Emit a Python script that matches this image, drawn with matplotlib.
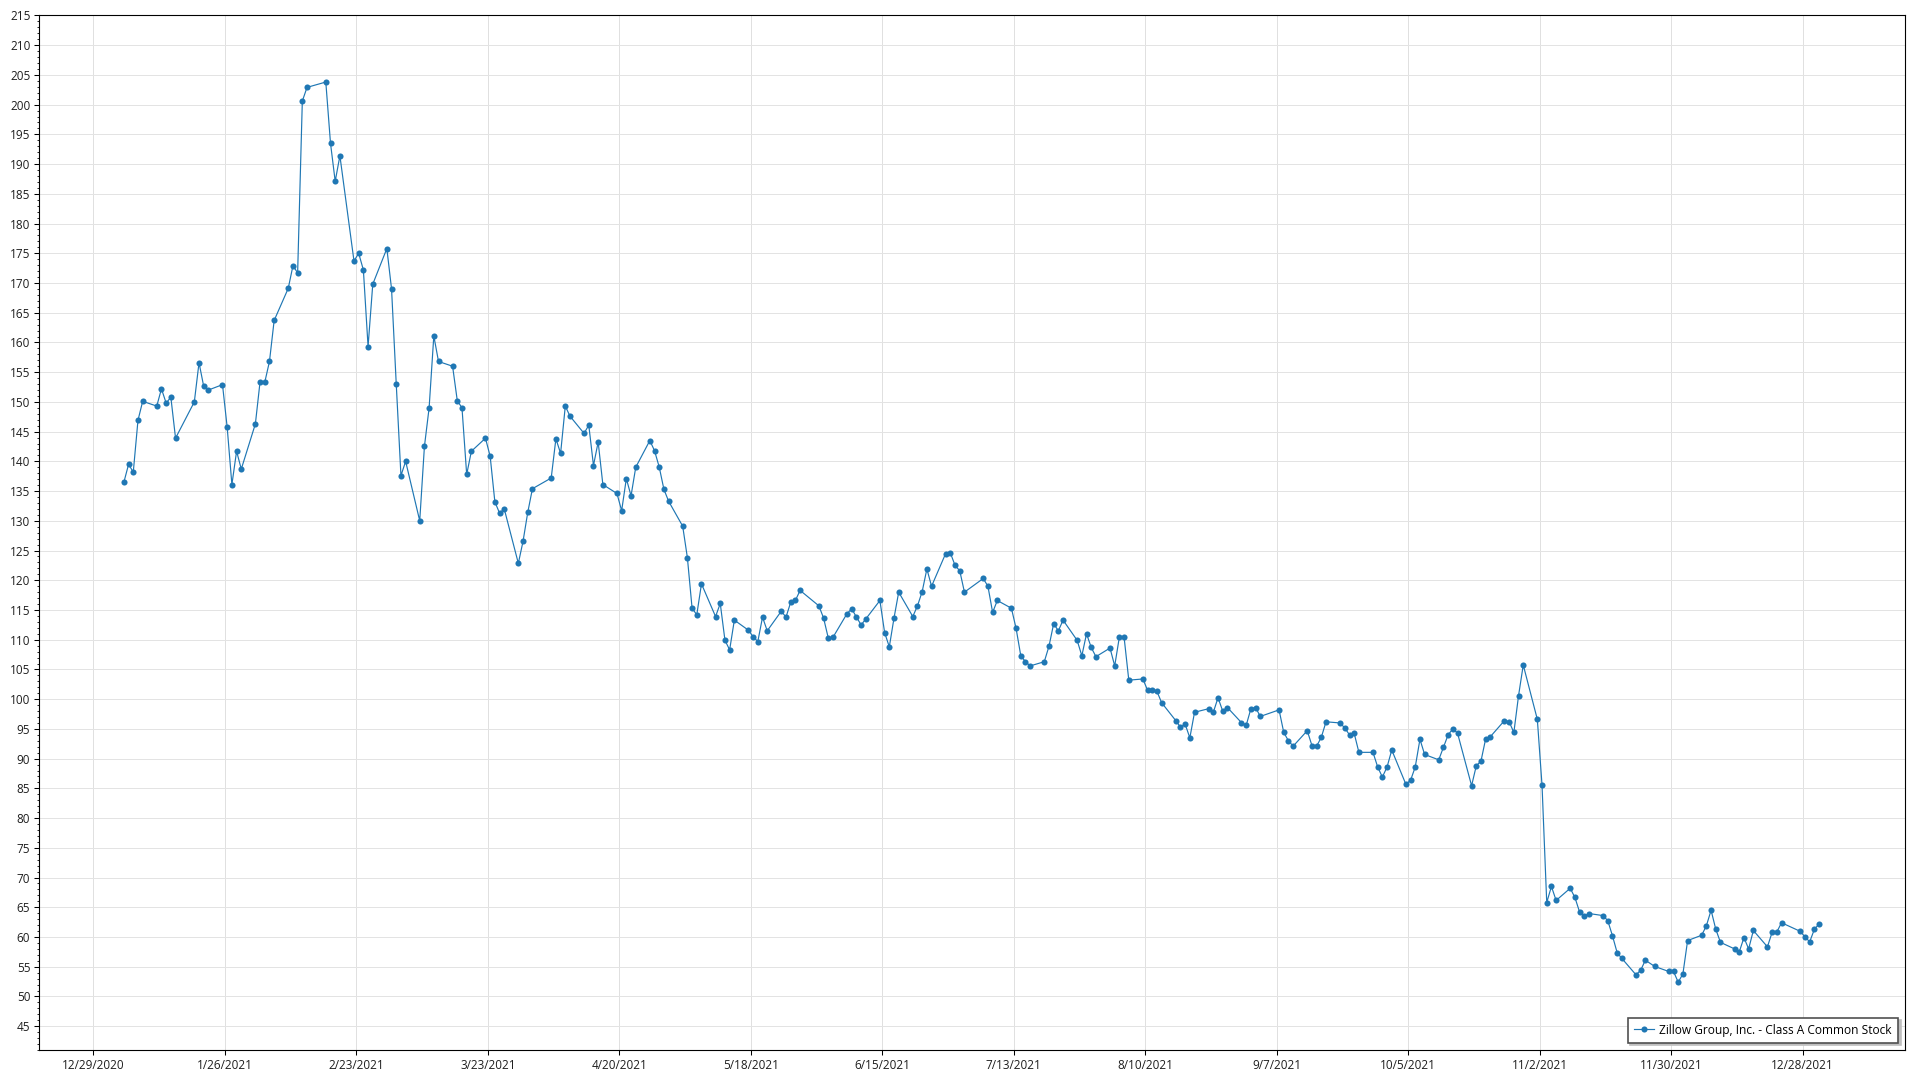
# plot.py - Zillow Group (ZG) daily close, 2021

import numpy as np
import pandas as pd
import matplotlib
matplotlib.use("Agg")
import matplotlib.pyplot as plt
from matplotlib.ticker import MultipleLocator

# =============================
# 1. Data (daily closes)
# =============================

series_name = "Zillow Group, Inc. - Class A Common Stock"

market_holidays = ["2021-01-18", "2021-02-15", "2021-04-02", "2021-05-31",
                   "2021-07-05", "2021-09-06", "2021-11-25", "2021-12-24"]

jan = [136.5, 139.5, 138.2, 146.9, 150.1,
       149.3, 152.2, 149.8, 150.8, 143.9,
       150.0, 156.6, 152.6, 152.0,
       152.9, 145.7, 136.1, 141.7, 138.7]
feb = [146.3, 153.4, 153.3, 156.8, 163.7,
       169.1, 172.9, 171.7, 200.6, 202.9,
       203.8, 193.5, 187.1, 191.4,
       173.7, 175.0, 172.2, 159.3, 169.8]
mar = [175.8, 169.0, 153.0, 137.6, 140.0,
       130.0, 142.5, 149.0, 161.1, 156.8,
       156.0, 150.2, 149.0, 137.8, 141.7,
       143.9, 140.85, 133.2, 131.3, 132.0,
       122.85, 126.55, 131.4]
apr = [135.4,
       137.2, 143.8, 141.35, 149.3, 147.6,
       144.7, 146.1, 139.3, 143.25, 136.1,
       134.6, 131.7, 137.1, 134.2, 139.0,
       143.5, 141.8, 139.05, 135.3, 133.3]
may = [129.1, 123.8, 115.3, 114.2, 119.4,
       113.9, 116.1, 109.9, 108.3, 113.3,
       111.6, 110.5, 109.7, 113.8, 111.5,
       114.8, 113.8, 116.3, 116.6, 118.3]
jun = [115.7, 113.65, 110.3, 110.4,
       114.4, 115.2, 113.8, 112.5, 113.5,
       116.6, 111.2, 108.8, 113.65, 118.0,
       113.9, 115.7, 118.1, 121.9, 119.0,
       124.5, 124.6, 122.5]
jul = [121.6, 118.0,
       120.3, 119.0, 114.6, 116.6,
       115.3, 111.9, 107.3, 106.3, 105.6,
       106.3, 108.9, 112.7, 111.5, 113.3,
       109.9, 107.3, 111.0, 108.7, 107.15]
aug = [108.6, 105.6, 110.5, 110.4, 103.2,
       103.4, 101.5, 101.6, 101.3, 99.4,
       96.4, 95.3, 95.8, 93.5, 97.8,
       98.4, 97.8, 100.25, 98.0, 98.6,
       96.05, 95.6]
sep = [98.4, 98.6, 97.1,
       98.2, 94.4, 93.0, 92.1,
       94.7, 92.2, 92.1, 93.6, 96.2,
       96.0, 95.15, 94.0, 94.25, 91.06,
       91.06, 88.6, 86.9, 88.6]
oct_ = [91.45,
        85.7, 86.35, 88.6, 93.25, 90.7,
        89.8, 91.9, 94.0, 95.0, 94.3,
        85.45, 88.8, 89.6, 93.35, 93.7,
        96.4, 96.2, 94.4, 100.6, 105.75]
nov = [96.6, 85.5, 65.8, 68.5, 66.15,
       68.2, 66.65, 64.2, 63.5, 63.95,
       63.6, 62.75, 60.2, 57.35, 56.4,
       53.65, 54.4, 56.1, 55.05,
       54.2, 54.2]
dec = [52.4, 53.8, 59.4,
       60.3, 61.9, 64.5, 61.3, 59.1,
       58.0, 57.5, 59.9, 58.0, 61.1,
       58.35, 60.8, 60.85, 62.4,
       60.95, 60.0, 59.2, 61.3, 62.2]

closes = np.array(jan + feb + mar + apr + may + jun + jul + aug + sep + oct_ + nov + dec)
dates = pd.bdate_range("2021-01-04", "2021-12-31", freq="C", holidays=market_holidays)
dates = dates + pd.Timedelta(hours=12)  # points sit mid-day in the source chart
assert len(dates) == len(closes)

# x ticks every 4 weeks
tick_start = pd.Timestamp("2020-12-29")
tick_dates = pd.date_range(tick_start, periods=14, freq="28D")
tick_labels = [f"{d.month}/{d.day}/{d.year}" for d in tick_dates]

# =============================
# 2. Plot
# =============================

plt.rcParams["font.family"] = ["Open Sans", "DejaVu Sans"]
plt.rcParams["font.size"] = 8.5

fig = plt.figure(figsize=(19.2, 10.8), dpi=100)
ax = fig.add_axes([0.0205, 0.0278, 0.9717, 0.9579])

ax.plot(dates, closes, color="#1f77b4", lw=0.85, marker="o", ms=4.4, mew=0,
        mfc="#1f77b4", label=series_name, zorder=3)

ax.set_xlim(tick_start - pd.Timedelta(days=11.5), tick_start + pd.Timedelta(days=385.8))
ax.set_ylim(41, 215)

ax.set_xticks(tick_dates)
ax.set_xticklabels(tick_labels)
ax.yaxis.set_major_locator(MultipleLocator(5))
ax.yaxis.set_minor_locator(MultipleLocator(1))

ax.grid(True, axis="y", which="major", color="#e3e3e3", lw=0.72, zorder=0)
ax.grid(True, axis="x", which="major", color="#e0e0e0", lw=0.72, zorder=0)
ax.set_axisbelow(True)

for s in ax.spines.values():
    s.set_color("black")
    s.set_linewidth(0.8)

ax.tick_params(axis="both", which="major", direction="out", length=3.5, width=0.75,
               color="black", labelcolor="#1e1e1e", pad=3)
ax.tick_params(axis="y", which="minor", direction="out", length=1.8, width=0.6, color="black")

leg = ax.legend(loc="lower right", bbox_to_anchor=(0.9961, 0.0071), borderaxespad=0,
                fancybox=False, framealpha=1, edgecolor="#505050",
                shadow={"color": "0.75", "alpha": 1}, fontsize=8.6,
                handlelength=1.7, borderpad=0.5, handletextpad=0.45)
leg.get_frame().set_linewidth(1.2)

fig.savefig("out.png", dpi=100, facecolor="white")
plt.close(fig)
